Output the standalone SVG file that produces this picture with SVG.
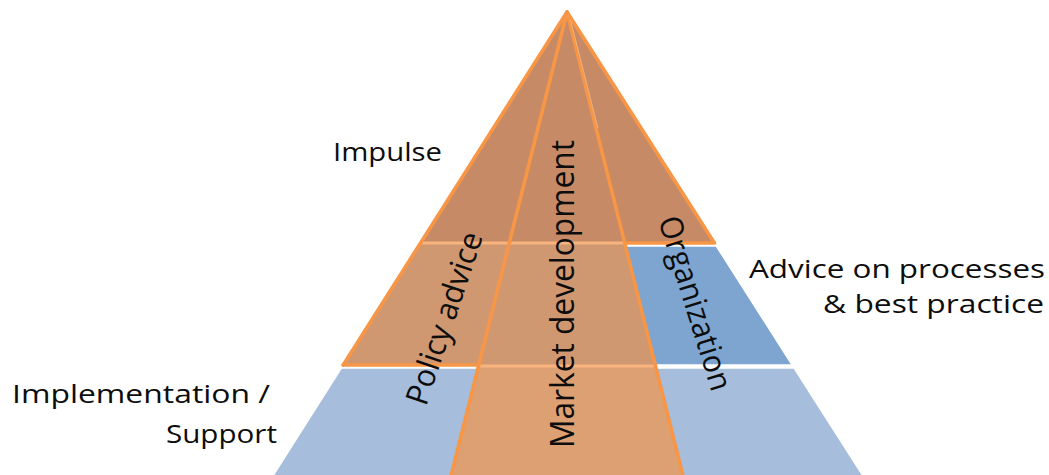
<svg xmlns="http://www.w3.org/2000/svg" width="1049" height="475" viewBox="0 0 1049 475">
  <style>
    .blue-lt { fill: #A7BDDC; stroke: #FFFFFF; stroke-width: 1.5; }
    .blue-dk { fill: #7EA5D0; stroke: #FFFFFF; stroke-width: 1.5; }
    .tan-top { fill: #C68B66; }
    .tan-mid { fill: #D09870; }
    .tan-low { fill: #DCA072; }
    .edge { fill: none; stroke: #F79646; stroke-width: 3.6; stroke-linejoin: round; stroke-linecap: round; }
    .seam { fill: none; stroke: #F9B37E; stroke-width: 3; }
    .label { font-family: "Open Sans", "Liberation Sans", sans-serif; fill: #0D0D0D; }
  </style>
  <rect x="0" y="0" width="1049" height="475" fill="#FFFFFF"/>

  <!-- lower band: implementation / support -->
  <g id="support-left">
    <polygon class="blue-lt" points="341.3,368 478,368 450,480 270.3,480"/>
  </g>
  <g id="support-right">
    <polygon class="blue-lt" points="656,368 794.1,368 865.6,480 684,480"/>
  </g>

  <!-- middle band, right facet -->
  <g id="organization">
    <polygon class="blue-dk" points="625.5,246 716.3,246 792.2,365 655.25,365"/>
  </g>

  <!-- tip -->
  <g id="impulse">
    <polygon class="tan-top" points="567,12 420.5,243 714.4,243"/>
  </g>

  <!-- middle band, left facet -->
  <g id="policy-advice">
    <polygon class="tan-mid" points="420.5,243 509.25,243 478.75,365 343.2,365"/>
  </g>

  <!-- central column -->
  <g id="market-development">
    <polygon class="tan-mid" points="509.25,243 624.75,243 655.25,365 478.75,365"/>
    <polygon class="tan-low" points="478.75,365 655.25,365 684,480 450,480"/>
  </g>

  <!-- outlines and dividing lines -->
  <g id="connectors">
    <line class="seam" x1="420.5" y1="243" x2="624.75" y2="243"/>
    <line class="seam" x1="478.75" y1="366" x2="655.25" y2="366"/>
    <polyline class="edge" points="343.2,365 567,12 714.4,243 624.75,243"/>
    <line class="edge" x1="343.2" y1="365" x2="478.75" y2="365"/>
    <line class="edge" x1="567" y1="12" x2="450" y2="480"/>
    <line class="edge" x1="567" y1="12" x2="684" y2="480"/>
    <line x1="570.5" y1="20" x2="598" y2="128" stroke="#F3C29C" stroke-width="0.8" stroke-opacity="0.8"/>
  </g>

  <!-- labels -->
  <g id="labels">
    <text class="label" x="333" y="161" font-size="26" textLength="109" lengthAdjust="spacingAndGlyphs">Impulse</text>
    <text class="label" x="749" y="278" font-size="26" textLength="296" lengthAdjust="spacingAndGlyphs">Advice on processes</text>
    <text class="label" x="823" y="313" font-size="26" textLength="221" lengthAdjust="spacingAndGlyphs">&amp; best practice</text>
    <text class="label" x="12" y="403" font-size="26" textLength="258" lengthAdjust="spacingAndGlyphs">Implementation /</text>
    <text class="label" x="166" y="443" font-size="26" textLength="111" lengthAdjust="spacingAndGlyphs">Support</text>
    <text class="label" font-size="32" textLength="308" lengthAdjust="spacingAndGlyphs" transform="translate(574,448) rotate(-90)">Market development</text>
    <text class="label" font-size="31.5" textLength="180" lengthAdjust="spacingAndGlyphs" transform="translate(426,407) rotate(-71.5)">Policy advice</text>
    <text class="label" font-size="31.5" textLength="181" lengthAdjust="spacingAndGlyphs" transform="translate(658,220) rotate(72.7)">Organization</text>
  </g>
</svg>
